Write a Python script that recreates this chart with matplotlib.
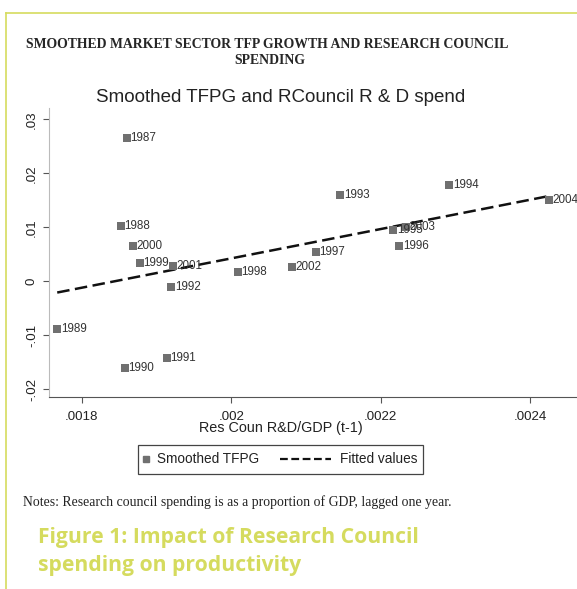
import matplotlib
matplotlib.use("Agg")
import matplotlib.pyplot as plt
from matplotlib.lines import Line2D
from matplotlib.patches import Rectangle

# data
years = ["1987", "1988", "2000", "1999", "2001", "1992", "1998", "1989", "1990", "1991",
         "2002", "1997", "1993", "1994", "1996", "1995", "2003", "2004"]
rc_gdp = [0.001860, 0.001852, 0.001868, 0.001878, 0.001922, 0.001920, 0.002009, 0.001767,
          0.001858, 0.001914, 0.002081, 0.002113, 0.002146, 0.002292, 0.002225, 0.002217,
          0.002234, 0.002426]
tfpg = [0.0265, 0.0103, 0.0065, 0.0034, 0.0028, -0.0011, 0.0017, -0.0088, -0.0160, -0.0142,
        0.0026, 0.0054, 0.0160, 0.0179, 0.0065, 0.0095, 0.0101, 0.0151]
fit_x = [0.001767, 0.002426]
fit_y = [-0.0021, 0.0158]

W, H = 577, 589
fig = plt.figure(figsize=(W / 100, H / 100), dpi=100)
fig.patch.set_facecolor("white")

def fx(px):
    return px / W

def fy(py):
    return 1 - py / H

green = "#d5db5e"
# page border lines
fig.add_artist(Line2D([fx(6), fx(6)], [fy(13), fy(589)], color=green, lw=1.2))
fig.add_artist(Line2D([fx(6), 1], [fy(13), fy(13)], color=green, lw=1.2))

# headings
fig.text(fx(267), fy(44), "SMOOTHED MARKET SECTOR TFP GROWTH AND RESEARCH COUNCIL",
         family="Liberation Serif", weight="bold", size=9.9, ha="center", va="center",
         color="#262626")
fig.text(fx(270), fy(61), "SPENDING", family="Liberation Serif", weight="bold", size=9.9,
         ha="center", va="center", color="#262626")
fig.text(fx(281), fy(98), "Smoothed TFPG and RCouncil R & D spend",
         family="Liberation Sans", size=13.5, ha="center", va="center", color="#222222")

ax = fig.add_axes([fx(49), fy(397), fx(577 - 49), (397 - 108) / H])
ax.scatter(rc_gdp, tfpg, s=26, marker="s", color="#707070", zorder=3, linewidths=0)
for x, y, lab in zip(rc_gdp, tfpg, years):
    ax.annotate(lab, (x, y), xytext=(2.5, 0), textcoords="offset points", va="center",
                ha="left", size=8.4, color="#333333", family="Liberation Sans",
                annotation_clip=False)
ax.plot(fit_x, fit_y, color="#111111", lw=1.8, dashes=(5, 2.2), zorder=2)

ax.set_xlim(0.001756, 0.002463)
ax.set_ylim(-0.02146, 0.0321)
ax.set_xticks([0.0018, 0.002, 0.0022, 0.0024])
ax.set_xticklabels([".0018", ".002", ".0022", ".0024"])
ax.set_yticks([-0.02, -0.01, 0, 0.01, 0.02, 0.03])
ax.set_yticklabels(["-.02", "-.01", "0", ".01", ".02", ".03"], rotation=90, va="center")
ax.tick_params(labelsize=9.6, length=4, color="#555555", labelcolor="#222222")
ax.tick_params(axis="x", pad=6)
ax.tick_params(axis="y", pad=4)
for lab in ax.get_xticklabels() + ax.get_yticklabels():
    lab.set_family("Liberation Sans")
for s in ["top", "right"]:
    ax.spines[s].set_visible(False)
ax.spines["bottom"].set_color("#555555")
ax.spines["left"].set_color("#bbbbbb")

fig.text(fx(281), fy(428), "Res Coun R&D/GDP (t-1)", family="Liberation Sans",
         size=10.4, ha="center", va="center", color="#222222")

# legend box drawn by hand to match placement
fig.add_artist(Rectangle((fx(138), fy(474)), fx(423 - 138), (474 - 445) / H,
                         fill=False, edgecolor="#444444", lw=0.9))
fig.add_artist(Line2D([fx(146)], [fy(459)], marker="s", ls="none", color="#707070",
                      markersize=4))
fig.text(fx(157), fy(459), "Smoothed TFPG", family="Liberation Sans", size=9.8,
         ha="left", va="center", color="#222222")
fig.add_artist(Line2D([fx(280), fx(331)], [fy(459), fy(459)], color="#111111", lw=1.6,
                      dashes=(3.5, 1.6)))
fig.text(fx(340), fy(459), "Fitted values", family="Liberation Sans", size=9.8,
         ha="left", va="center", color="#222222")

fig.text(fx(23), fy(502),
         "Notes: Research council spending is as a proportion of GDP, lagged one year.",
         family="Liberation Serif", size=9.9, ha="left", va="center", color="#222222")

fig.text(fx(38), fy(538), "Figure 1: Impact of Research Council", family="Open Sans",
         weight="bold", size=15.2, ha="left", va="center", color=green)
fig.text(fx(38), fy(566), "spending on productivity", family="Open Sans",
         weight="bold", size=15.2, ha="left", va="center", color=green)

fig.savefig("out.png", dpi=100)
